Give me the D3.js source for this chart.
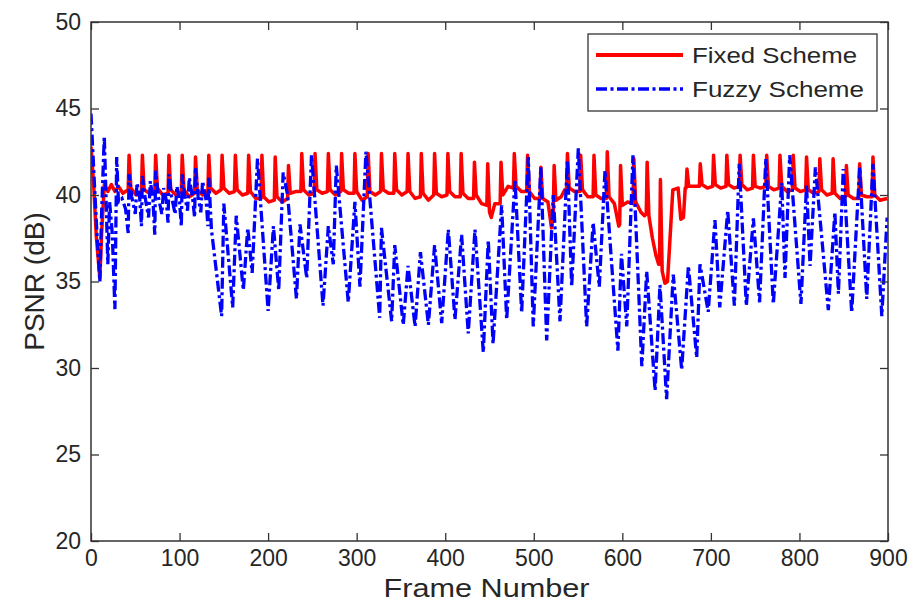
<!DOCTYPE html>
<html>
<head>
<meta charset="utf-8">
<script src="https://cdn.jsdelivr.net/npm/d3@7"></script>
<style>
  body { margin: 0; background: #fff; }
  text { font-family: "Liberation Sans", Arial, sans-serif; fill: #262626; }
</style>
</head>
<body>
<svg id="chart" width="909" height="605"></svg>
<script>
// values: [frame, PSNR dB]
const seriesNames = ["Fixed Scheme", "Fuzzy Scheme"];
const xTicks = [0, 100, 200, 300, 400, 500, 600, 700, 800, 900];
const yTicks = [20, 25, 30, 35, 40, 45, 50];

const fixedSeries = [
  [0,42.8],[3,40.6],[6,37.6],[10,35.2],[12,37.8],[15,40.6],[19,40.2],[23,40.6],[27,40.2],[31,40.5],[36,40.1],
  [42,40.3],[43,42.3],[45,40.4],[51,40.0],
  [57,40.2],[58,42.3],[60,40.3],[66,40.1],
  [72,40.2],[73,42.3],[75,40.4],[81,40.0],
  [87,40.1],[88,42.3],[90,40.3],[96,40.0],
  [102,40.2],[103,42.3],[105,40.3],[111,39.9],
  [117,40.1],[118,42.2],[120,40.3],[126,40.0],
  [132,40.2],[133,42.3],[135,40.4],[141,40.1],
  [147,40.3],[148,42.3],[150,40.4],[156,40.1],
  [162,40.2],[163,42.3],[165,40.3],[171,40.0],
  [177,40.1],[178,42.3],[180,40.2],[186,39.8],
  [192,39.8],[193,42.3],[195,39.9],[201,39.6],
  [207,39.7],[208,42.2],[210,39.9],[216,39.6],
  [222,39.8],[223,41.7],[225,40.1],[231,40.2],
  [237,40.2],[238,42.4],[240,40.3],[246,40.0],
  [252,40.1],[253,42.4],[255,40.3],[261,40.1],
  [267,40.2],[268,42.4],[270,40.3],[276,40.0],
  [282,40.2],[283,42.4],[285,40.3],[291,40.1],
  [297,40.1],[298,42.4],[300,40.2],[306,39.7],
  [312,39.9],[313,42.4],[315,40.2],[321,40.0],
  [327,40.2],[328,42.4],[330,40.3],[336,40.1],
  [342,40.1],[343,42.4],[345,40.3],[351,40.0],
  [357,40.2],[358,42.4],[360,40.2],[366,39.8],
  [372,39.9],[373,42.4],[375,40.1],[381,39.7],
  [387,40.0],[388,42.4],[390,40.1],[396,39.9],
  [402,40.0],[403,42.4],[405,40.2],[411,39.9],
  [417,39.9],[418,42.4],[420,40.1],[426,39.8],
  [432,39.8],[433,41.9],[435,40.0],[441,39.5],
  [447,39.4],[448,41.8],[450,39.0],[452,38.7],[456,39.5],
  [462,39.5],[463,41.9],[465,40.0],[471,40.5],
  [477,40.4],[478,42.4],[480,40.5],[486,40.2],
  [492,40.2],[493,42.3],[495,40.2],[501,39.8],
  [507,39.8],[508,41.6],[510,39.8],[516,39.6],[520,38.1],
  [522,39.0],[523,41.7],[525,39.7],[531,39.9],[535,40.3],
  [537,40.3],[538,42.4],[540,40.4],[546,40.2],
  [552,40.2],[553,42.3],[555,40.3],[561,39.9],
  [567,39.9],[568,42.3],[570,40.0],[576,39.8],
  [582,39.8],[583,42.5],[585,39.9],[591,39.5],[596,38.2],
  [597,38.3],[598,41.7],[600,39.4],[606,39.6],
  [612,39.5],[613,42.1],[615,39.6],[621,39.0],[625,38.8],
  [627,38.9],[628,41.9],[630,38.8],[634,37.5],[638,36.5],[641,36.0],
  [642,36.0],[643,40.9],[645,35.6],[648,34.9],[651,35.0],[655,38.5],[657,40.3],[663,40.4],[666,38.6],[669,38.7],[671,40.4],
  [672,40.4],[673,41.5],[675,40.5],[681,40.5],
  [687,40.5],[688,41.8],[690,40.6],[696,40.4],
  [702,40.5],[703,42.3],[705,40.6],[711,40.4],
  [717,40.5],[718,42.3],[720,40.6],[726,40.4],
  [732,40.5],[733,42.3],[735,40.6],[741,40.3],
  [747,40.4],[748,42.3],[750,40.5],[756,40.4],
  [762,40.5],[763,42.3],[765,40.5],[771,40.3],
  [777,40.4],[778,42.3],[780,40.5],[786,40.2],
  [792,40.3],[793,42.3],[795,40.4],[801,40.2],
  [807,40.3],[808,42.2],[810,40.3],[816,40.1],
  [822,40.2],[823,42.1],[825,40.3],[831,40.0],
  [837,40.1],[838,42.1],[840,40.1],[846,39.8],
  [852,39.9],[853,41.7],[855,40.0],[861,39.8],
  [867,39.8],[868,41.8],[870,40.0],[876,39.9],
  [882,39.9],[883,42.2],[885,40.0],[891,39.7],[899,39.8]
];

const fuzzySeries = [
  [0,44.7],[4,40.5],[7,37.5],[10,35.0],[12,39.0],[15,43.4],[17,39.8],[19,36.0],[21,39.6],[24,37.8],[27,33.4],[29,42.2],[31,39.6],[35,39.8],[39,39.2],
  [42,37.8],[43,41.2],[46,39.9],[50,38.9],[52,40.7],[55,39.8],
  [57,38.2],[58,41.1],[61,39.9],[65,38.7],[67,40.8],[70,39.7],
  [72,37.7],[73,41.4],[76,39.9],[80,38.9],[82,40.4],[85,39.7],
  [87,38.4],[88,41.2],[91,39.9],[95,38.9],[97,40.5],[100,39.6],
  [102,38.2],[103,41.2],[106,39.9],[109,39.1],[111,41.0],[115,39.7],
  [117,38.7],[118,41.6],[121,39.9],[124,39.0],[126,40.8],[130,39.7],
  [132,38.2],[133,41.0],[136,38.0],
  [147.5,33.0],[150,39.5],[160,33.5],[164,38.8],[172,34.5],[177,38.1],[182,35.5],[188,42.1],
  [200,33.3],[206,38.2],[212,34.5],[217,41.3],[222,40.0],[232,34.0],[236,38.3],[243.6,35.2],
  [249,42.3],[262,33.6],[268,38.2],[273.6,36.0],[277,41.7],[290.5,33.8],[298,39.6],[303.7,34.7],
  [310.5,42.5],[326,32.9],[328,38.1],[339.5,32.7],[343,37.1],[352.6,32.5],[358,35.9],[366,32.4],
  [372,36.7],[381,32.5],[388,37.1],[396,32.6],[403.5,38.0],[411,32.8],[418.5,37.7],[426,32.0],
  [433.6,38.0],[443,30.9],[448.6,37.4],[454,31.4],[463.7,39.4],[469.4,32.8],[478.8,40.9],[486.3,33.2],
  [493.8,42.2],[499.4,32.4],[508,41.6],[514.6,31.6],[522,40.0],[529.6,32.7],[538,42.0],[542.8,34.7],
  [550.3,42.7],[559.7,32.4],[567,38.4],[574,34.7],[580.4,41.4],[595,31.0],[599,36.6],[605,32.4],
  [612,42.3],[622,30.1],[627.5,35.6],[637,28.7],[642.5,34.8],[650,28.2],[657.5,35.4],[667,29.9],
  [674.6,35.9],[684,30.6],[687.7,36.0],[697,33.25],[704.6,38.55],[710,33.5],[719,39.1],[726.5,33.6],
  [732,41.8],[740,33.6],[748,38.65],[755,33.8],[762,42.1],[770.5,33.7],[780,40.7],[783.7,35.2],
  [789,42.3],[801.7,33.7],[808,40.6],[812,35.9],[818,41.6],[832.6,33.35],[840,39.0],[844,34.3],
  [849.5,41.5],[859,33.2],[868,41.6],[876,34.0],[883,41.8],[893,33.0],[899,38.7]
];

const box = {left: 91, top: 22, right: 888, bottom: 541};
const tickLen = 8;

const svg = d3.select("#chart");

svg.append("rect")
    .attr("width", 909)
    .attr("height", 605)
    .style("fill", "white");

const x = d3.scaleLinear().domain([0, 900]).range([box.left, box.right]);
const y = d3.scaleLinear().domain([20, 50]).range([box.bottom, box.top]);

svg.append("defs").append("clipPath").attr("id", "plotClip")
  .append("rect")
    .attr("x", box.left)
    .attr("y", box.top)
    .attr("width", box.right - box.left)
    .attr("height", box.bottom - box.top);

const line = d3.line()
    .x(d => x(d[0]))
    .y(d => y(d[1]));

const plot = svg.append("g").attr("clip-path", "url(#plotClip)");

plot.append("path")
    .datum(fixedSeries)
    .attr("d", line)
    .style("fill", "none")
    .style("stroke", "#ff0000")
    .style("stroke-width", 3.5)
    .style("stroke-linejoin", "round");

plot.append("path")
    .datum(fuzzySeries)
    .attr("d", line)
    .style("fill", "none")
    .style("stroke", "#0000ff")
    .style("stroke-width", 3.3)
    .style("stroke-dasharray", "11,3.5,3,3.5");

// axes: bottom/left with labels, top/right with ticks only, all ticks pointing in
const axisColor = "#333";

function styleAxis(g) {
    g.select(".domain").remove();
    g.selectAll(".tick line").attr("stroke", axisColor).attr("stroke-width", 1.3);
    g.selectAll(".tick text")
        .style("font-size", "23px")
        .style("font-family", "'Liberation Sans', Arial, sans-serif")
        .attr("fill", "#262626");
}

svg.append("g")
    .attr("transform", `translate(0,${box.bottom})`)
    .call(d3.axisBottom(x).tickValues(xTicks).tickSizeInner(-tickLen).tickSizeOuter(0).tickPadding(9))
    .call(styleAxis);

svg.append("g")
    .attr("transform", `translate(${box.left},0)`)
    .call(d3.axisLeft(y).tickValues(yTicks).tickSizeInner(-tickLen).tickSizeOuter(0).tickPadding(10))
    .call(styleAxis);

svg.append("g")
    .attr("transform", `translate(0,${box.top})`)
    .call(d3.axisTop(x).tickValues(xTicks).tickSizeInner(-tickLen).tickSizeOuter(0).tickFormat(""))
    .call(styleAxis);

svg.append("g")
    .attr("transform", `translate(${box.right},0)`)
    .call(d3.axisRight(y).tickValues(yTicks).tickSizeInner(-tickLen).tickSizeOuter(0).tickFormat(""))
    .call(styleAxis);

svg.append("rect")
    .attr("x", box.left)
    .attr("y", box.top)
    .attr("width", box.right - box.left)
    .attr("height", box.bottom - box.top)
    .style("fill", "none")
    .style("stroke", axisColor)
    .style("stroke-width", 1.5);

// axis titles
svg.append("text")
    .attr("x", (box.left + box.right) / 2 - 3)
    .attr("y", 597)
    .attr("text-anchor", "middle")
    .attr("textLength", 206)
    .attr("lengthAdjust", "spacingAndGlyphs")
    .style("font-size", "26px")
    .text("Frame Number");

svg.append("text")
    .attr("transform", `translate(44,${(box.top + box.bottom) / 2}) rotate(-90)`)
    .attr("text-anchor", "middle")
    .style("font-size", "28px")
    .text("PSNR (dB)");

// legend
const legend = svg.append("g");
legend.append("rect")
    .attr("x", 588)
    .attr("y", 34)
    .attr("width", 289)
    .attr("height", 77)
    .style("fill", "white")
    .style("stroke", axisColor)
    .style("stroke-width", 1.3);

const legendStyles = [
    {color: "#ff0000", width: 4, dash: null},
    {color: "#0000ff", width: 3.3, dash: "11,3.5,3,3.5"}
];

seriesNames.forEach((name, i) => {
    const ly = 55 + i * 34;
    legend.append("line")
        .attr("x1", 596)
        .attr("x2", 683)
        .attr("y1", ly)
        .attr("y2", ly)
        .style("stroke", legendStyles[i].color)
        .style("stroke-width", legendStyles[i].width)
        .style("stroke-dasharray", legendStyles[i].dash);
    legend.append("text")
        .attr("x", 692)
        .attr("y", ly + 8)
        .attr("textLength", i === 0 ? 165 : 172)
        .attr("lengthAdjust", "spacingAndGlyphs")
        .style("font-size", "22px")
        .text(name);
});
</script>
</body>
</html>
